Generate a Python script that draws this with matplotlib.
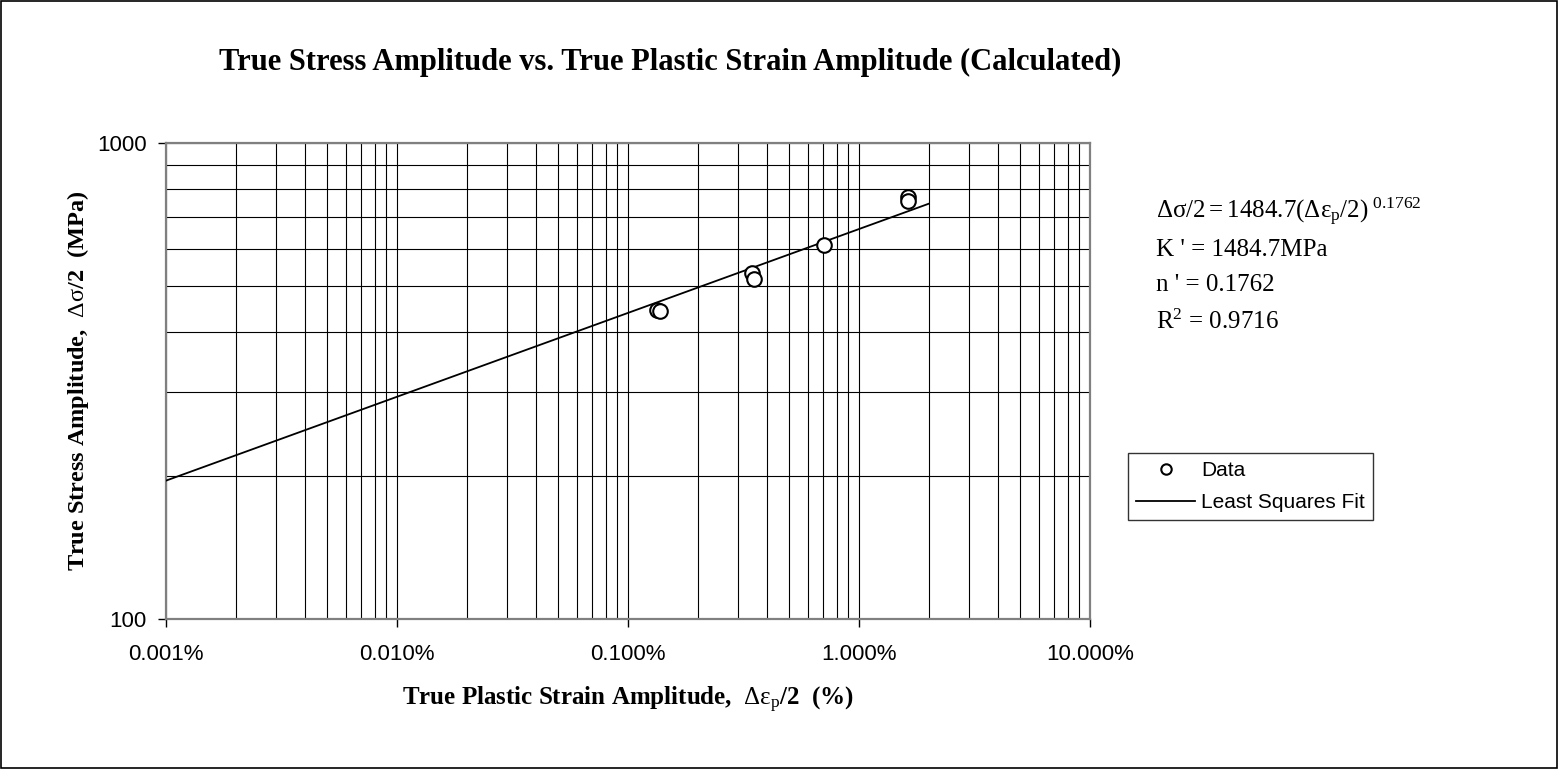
import numpy as np
import matplotlib.pyplot as plt
from matplotlib.ticker import FuncFormatter, LogLocator, NullFormatter

plt.rcParams['mathtext.fontset'] = 'custom'
plt.rcParams['mathtext.rm'] = 'Liberation Serif'
plt.rcParams['mathtext.it'] = 'Liberation Serif'
plt.rcParams['mathtext.bf'] = 'Liberation Serif:bold'

#########################################################
# data (strain amplitude as fraction, stress in MPa)
#########################################################
strain = [0.001335, 0.001376, 0.00344, 0.00351, 0.00705, 0.0163, 0.0163]
stress = [446, 443.6, 533, 518, 610, 770, 755]

# least squares fit end points: 1484.7 * (de/2)^0.1762
fit_x = [1e-5, 0.02]
fit_y = [195.3, 745.2]

x_ticks = [1e-5, 1e-4, 1e-3, 1e-2, 1e-1]
y_ticks = [100, 1000]

fit_text = ["K ' = 1484.7MPa", "n ' = 0.1762"]

#########################################################
# plot
#########################################################
fig = plt.figure(figsize=(15.58, 7.69), dpi=100)
ax = fig.add_axes([166/1558, 1-619/769, 924/1558, 476/769])

ax.plot(strain, stress, "o", ms=10.5, mfc="white", mec="black", mew=1.5,
        ls="none", label="Data", zorder=4)
ax.plot(fit_x, fit_y, "-", color="black", lw=1.3, label="Least Squares Fit", zorder=3)

ax.set_xscale("log")
ax.set_yscale("log")
ax.set_xlim(1e-5, 1e-1)
ax.set_ylim(100, 1000)

ax.xaxis.set_minor_locator(LogLocator(base=10, subs=np.arange(2, 10), numticks=20))
ax.yaxis.set_minor_locator(LogLocator(base=10, subs=np.arange(2, 10), numticks=20))
ax.set_xticks(x_ticks)
ax.set_yticks(y_ticks)
ax.xaxis.set_major_formatter(FuncFormatter(lambda v, p: "%.3f%%" % (v*100)))
ax.yaxis.set_major_formatter(FuncFormatter(lambda v, p: "%d" % v))
ax.xaxis.set_minor_formatter(NullFormatter())
ax.yaxis.set_minor_formatter(NullFormatter())

ax.grid(True, which="both", color="black", lw=0.8)
ax.tick_params(which="minor", length=0)
ax.tick_params(which="major", length=6, width=1, direction="out", color="black",
               labelsize=16)
ax.tick_params(axis="x", pad=12)
ax.tick_params(axis="y", pad=8)
for lab in ax.get_xticklabels() + ax.get_yticklabels():
    lab.set_family("Liberation Sans")
for s in ax.spines.values():
    s.set_color("#808080")
    s.set_linewidth(1.6)

ax.set_xlabel(r"True Plastic Strain Amplitude,  $\Delta\varepsilon_{\mathrm{p}}$/2  (%)",
              family="Liberation Serif", weight="bold", fontsize=18, labelpad=14)
ax.set_ylabel(r"True Stress Amplitude,  $\Delta\sigma$/2  (MPa)",
              family="Liberation Serif", weight="bold", fontsize=17.5, labelpad=4)

fig.text(670/1558, 1-62/769,
         "True Stress Amplitude vs. True Plastic Strain Amplitude (Calculated)",
         family="Liberation Serif", weight="bold", fontsize=22, ha="center", va="center")

# fit equation
fig.text(1156/1558, 1-212/769,
         r"$\Delta\sigma/2 = 1484.7(\Delta\varepsilon_{\mathrm{p}}/2)^{\ 0.1762}$",
         fontsize=18, ha="left", va="center")
fig.text(1156/1558, 1-250/769, fit_text[0], family="Liberation Serif", fontsize=18,
         ha="left", va="center")
fig.text(1156/1558, 1-285/769, fit_text[1], family="Liberation Serif", fontsize=18,
         ha="left", va="center")
fig.text(1156/1558, 1-322/769, r"R$^{2}$ = 0.9716", family="Liberation Serif",
         fontsize=18, ha="left", va="center")

leg = fig.legend(loc="upper left", bbox_to_anchor=(1128/1558, 1-453/769),
                 prop={"family": "Liberation Sans", "size": 15},
                 frameon=True, fancybox=False, borderpad=0.4, handlelength=2.8,
                 handletextpad=0.3, labelspacing=0.6, borderaxespad=0)
leg.get_frame().set_edgecolor("black")
leg.get_frame().set_linewidth(1.0)
leg.legend_handles[0].set_markersize(7.5)

# outer border
fig.patches.append(plt.Rectangle((0.0005, 0.001), 0.999, 0.998, transform=fig.transFigure,
                                 fill=False, edgecolor="black", lw=1.2))

plt.savefig("out.png", dpi=100)
